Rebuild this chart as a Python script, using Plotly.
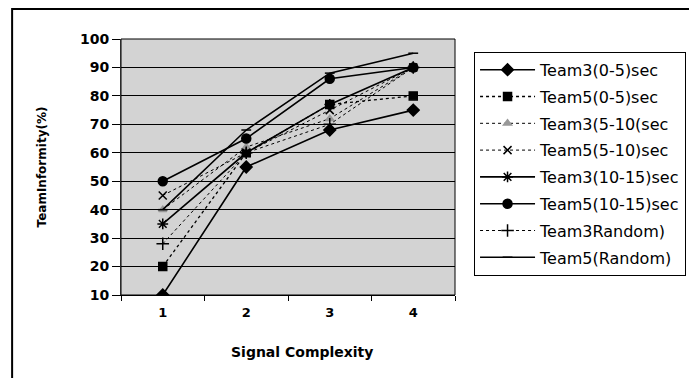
import plotly.graph_objects as go

categories = [1, 2, 3, 4]
series_names = ["Team3(0-5)sec", "Team5(0-5)sec", "Team3(5-10(sec", "Team5(5-10)sec",
                "Team3(10-15)sec", "Team5(10-15)sec", "Team3Random)", "Team5(Random)"]
team3_0_5 = [10, 55, 68, 75]
team5_0_5 = [20, 60, 77, 80]
team3_5_10 = [40, 62, 72, 90]
team5_5_10 = [45, 60, 75, 90]
team3_10_15 = [35, 60, 77, 90]
team5_10_15 = [50, 65, 86, 90]
team3_random = [28, 60, 70, 90]
team5_random = [40, 68, 88, 95]
y_ticks = [10, 20, 30, 40, 50, 60, 70, 80, 90, 100]
x_boundaries = [0.5, 1.5, 2.5, 3.5, 4.5]

values = [team3_0_5, team5_0_5, team3_5_10, team5_5_10,
          team3_10_15, team5_10_15, team3_random, team5_random]
styles = [
    dict(symbol="diamond", size=9, color="black", lw=1.6, dash="solid"),
    dict(symbol="square", size=8, color="black", lw=1.3, dash="dot"),
    dict(symbol="triangle-up", size=7, color="#999999", lw=1.0, dash="dot"),
    dict(symbol="x-thin-open", size=8, color="black", lw=1.0, dash="dot"),
    dict(symbol="asterisk-open", size=9, color="black", lw=1.6, dash="solid"),
    dict(symbol="circle", size=9, color="black", lw=1.6, dash="solid"),
    dict(symbol="cross-thin-open", size=9, color="black", lw=1.0, dash="dot"),
    dict(symbol="line-ew-open", size=7, color="black", lw=1.6, dash="solid"),
]

FONT = "DejaVu Sans, Arial, sans-serif"

fig = go.Figure()
for name, vals, st in zip(series_names, values, styles):
    fig.add_trace(go.Scatter(
        x=categories, y=vals, name=name, mode="lines+markers",
        legendgroup=name,
        line=dict(color="black", width=st["lw"], dash=st["dash"]),
        marker=dict(symbol=st["symbol"], size=st["size"], color=st["color"],
                    line=dict(color=st["color"], width=1.5)),
    ))

# invisible helper trace so that the category-label axis (xaxis2) is rendered
fig.add_trace(go.Scatter(
    x=categories, y=team3_0_5, xaxis="x2", mode="markers",
    marker=dict(opacity=0), showlegend=False, hoverinfo="skip",
))

fig.update_layout(
    width=689, height=378,
    margin=dict(l=121, r=234, t=39, b=83, autoexpand=False),
    paper_bgcolor="white",
    plot_bgcolor="#d3d3d3",
    font=dict(family=FONT, color="black"),
    showlegend=True,
    legend=dict(
        x=1.057, y=0.95, xanchor="left", yanchor="top",
        bgcolor="white", bordercolor="black", borderwidth=1,
        font=dict(size=16, family=FONT),
        tracegroupgap=3, itemwidth=55,
    ),
    xaxis=dict(
        range=[0.5, 4.5], tickmode="array", tickvals=x_boundaries,
        ticktext=["" for _ in x_boundaries],
        ticks="outside", ticklen=5, tickcolor="black",
        showgrid=False, zeroline=False,
        showline=True, linecolor="black", linewidth=1, mirror=False,
    ),
    xaxis2=dict(
        range=[0.5, 4.5], overlaying="x", anchor="y", side="bottom",
        tickmode="array", tickvals=categories,
        ticktext=["<b>%d</b>" % c for c in categories],
        ticks="", showgrid=False, zeroline=False, showline=False, ticklabelstandoff=8,
        tickfont=dict(size=13, family=FONT),
    ),
    yaxis=dict(
        range=[10, 100], tickmode="array", tickvals=y_ticks,
        ticktext=["<b>%d</b>" % v for v in y_ticks],
        ticks="outside", ticklen=8, tickcolor="black",
        showgrid=True, gridcolor="black", gridwidth=1, zeroline=False,
        showline=True, linecolor="#555555", linewidth=1,
        tickfont=dict(size=14, family=FONT),
        title=dict(text="<b>TeamInformity(%)</b>", font=dict(size=12, family=FONT), standoff=30),
    ),
    annotations=[dict(
        text="<b>Signal Complexity</b>", xref="paper", yref="paper",
        x=0.542, y=-0.223, xanchor="center", yanchor="middle", showarrow=False,
        font=dict(size=14, family=FONT),
    )],
)

fig.add_shape(type="rect", xref="paper", yref="paper",
              x0=-0.326, x1=1.72, y0=-0.35, y1=1.117,
              line=dict(color="black", width=2), fillcolor="rgba(0,0,0,0)", layer="below")
fig.add_shape(type="rect", xref="paper", yref="paper",
              x0=0, x1=1, y0=0, y1=1,
              line=dict(color="black", width=1), fillcolor="rgba(0,0,0,0)")

fig.write_html("out.html")
